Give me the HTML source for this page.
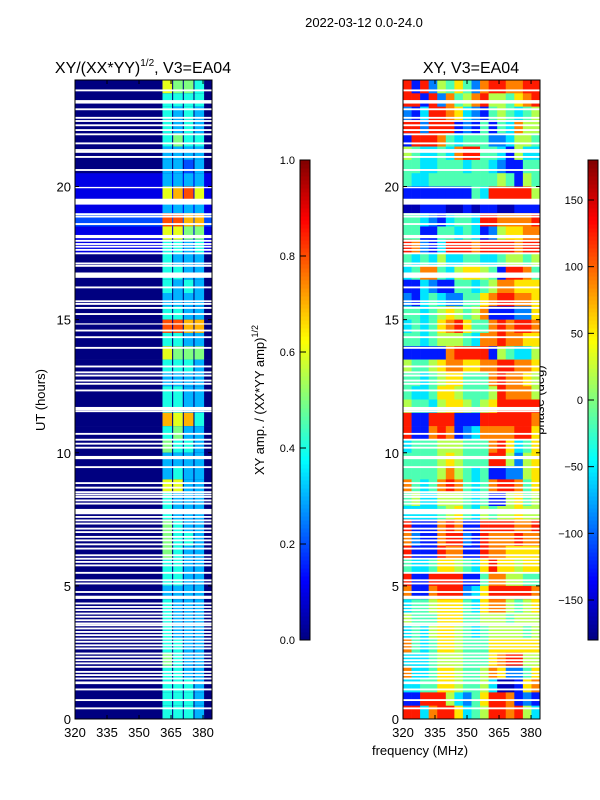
<!DOCTYPE html>
<html><head><meta charset="utf-8">
<style>
html,body{margin:0;padding:0;background:#fff;}
svg{display:block;font-family:"Liberation Sans","DejaVu Sans",sans-serif;}
</style></head>
<body>
<svg id="fig" width="600" height="800" viewBox="0 0 600 800" xmlns="http://www.w3.org/2000/svg">
<text x="364" y="27" font-size="13" text-anchor="middle">2022-03-12 0.0-24.0</text>
<text x="143" y="73" font-size="16" text-anchor="middle">XY/(XX*YY)<tspan font-size="10" dy="-7">1/2</tspan><tspan dy="7">, V3=EA04</tspan></text>
<text x="471" y="73" font-size="16" text-anchor="middle">XY, V3=EA04</text>
<text x="45" y="400" font-size="13" text-anchor="middle" transform="rotate(-90 45 400)">UT (hours)</text>
<text x="420" y="755" font-size="13" text-anchor="middle">frequency (MHz)</text>
<text x="264" y="400" font-size="13" text-anchor="middle" transform="rotate(-90 264 400)">XY amp. / (XX*YY amp)<tspan font-size="9" dy="-6">1/2</tspan></text>
<text x="544" y="400" font-size="13" text-anchor="middle" transform="rotate(-90 544 400)">phase (deg)</text>
<g id="ampPanel"></g>
<g id="phPanel"></g>
<g id="cb1"></g>
<g id="cb2"></g>
</svg>
<script>
// ---- data ----
const freqMin = 320, freqMax = 384.2, utMin = 0, utMax = 24;
const xTicks = [320, 335, 350, 365, 380];
const yTicks = [0, 5, 10, 15, 20];
const ampTicks = [0.0, 0.2, 0.4, 0.6, 0.8, 1.0];
const phTicks = [-150, -100, -50, 0, 50, 100, 150];
// amplitude: bright spectral bands (MHz)
const bandStart = [361, 366, 371, 376];
const bandEnd = [365.5, 370.5, 375.5, 380.5];
// rows of 0.5 h from top (23.5-24) to bottom (0-0.5); first digit = background, next 4 = bands (x0.1)
const ampRows = ["06554","04444","04343","04343","04544","03333","03323","13333","16786","13333",
"28877","16655","14434","04333","04433","04343","03333","04433","08877","04433",
"06555","04443","03333","04433","04433","07674","04533","05443","03333","03433",
"06633","04333","04333","05433","05443","05433","04433","04433","03333","04333",
"04333","04333","04433","05433","04433","04443","04443","04443"];
// phase rows (16 cols of 4 MHz), digit d -> phase -180+(d+0.5)*36
const phRows = ["8182546427887788","8818274578554678","2138876321454345","8828881214143755",
"1888743444223554","5433437884431533","4433444344321144","4334444444454154",
"1111111143888885","0011100101100111","4432134438877778","4411443431256677",
"8721388878888788","4343533443345545","3477435665418874","1132114434577666",
"2134322446788776","4434565457111226","3434678644787887","4434555437787766",
"1111178888154335","5445677667788776","4434566444787765","4334665444587775",
"5443566545688888","8118881118888887","8117871237777886","3444555444786346",
"4444565444885256","4444575434112256","7434787434788746","4533555434115645",
"3333456435455655","8111787118888778","7211788218777877","8111877118776666",
"4334665436866566","8118888114775544","7117888236888887","3445666436775456",
"5444666445554555","3435665434555545","7434665444666666","3334555444678855",
"7334665445762246","3344665445300167","1188853246887121","8837886345887853"];
// flagged (blank) times in hours and their widths
const flagT = [23.61,23.18,22.90,22.58,22.46,22.30,22.12,21.96,21.62,21.37,21.30,21.11,20.62,19.96,19.43,18.96,18.87,18.59,18.12,17.96,17.84,17.74,17.62,17.49,17.11,17.02,16.67,16.21,15.69,15.59,15.44,15.21,14.84,14.59,14.34,13.94,13.24,13.02,12.90,12.71,12.59,12.34,11.66,11.56,10.71,10.49,10.34,10.19,9.82,9.46,8.86,8.69,8.52,8.43,8.34,8.21,8.09,7.79,7.59,7.46,7.34,7.15,7.02,6.84,6.71,6.56,6.40,6.15,6.02,5.90,5.77,5.49,5.21,5.09,4.77,4.57,4.34,4.21,4.09,3.96,3.84,3.71,3.59,3.52,3.40,3.27,3.15,3.02,2.90,2.77,2.65,2.46,2.34,2.21,2.09,1.96,1.77,1.65,1.52,1.36,1.11,0.71,0.40];
const flagW = [0.07,0.13,0.07,0.07,0.07,0.07,0.07,0.07,0.07,0.07,0.07,0.07,0.07,0.05,0.22,0.07,0.07,0.07,0.12,0.07,0.07,0.07,0.07,0.07,0.07,0.07,0.2,0.07,0.07,0.07,0.07,0.07,0.04,0.07,0.07,0.07,0.07,0.07,0.07,0.07,0.07,0.07,0.12,0.07,0.07,0.07,0.07,0.07,0.12,0.07,0.07,0.07,0.07,0.07,0.07,0.07,0.07,0.2,0.07,0.07,0.07,0.07,0.07,0.07,0.07,0.07,0.07,0.07,0.07,0.07,0.07,0.07,0.07,0.07,0.07,0.12,0.07,0.07,0.07,0.07,0.07,0.07,0.07,0.07,0.07,0.07,0.07,0.07,0.07,0.07,0.07,0.07,0.07,0.07,0.07,0.07,0.07,0.07,0.07,0.1,0.07,0.07,0.07];

// ---- helpers ----
const NS = "http://www.w3.org/2000/svg";
function jet(v){
  v = Math.max(0, Math.min(1, v));
  const c = f => Math.round(255 * Math.max(0, Math.min(1, f)));
  return `rgb(${c(Math.min(4*v-1.5, -4*v+4.5))},${c(Math.min(4*v-0.5, -4*v+3.5))},${c(Math.min(4*v+0.5, -4*v+2.5))})`;
}
function mk(parent, tag, attrs){
  const e = document.createElementNS(NS, tag);
  for (const k in attrs) e.setAttribute(k, attrs[k]);
  parent.appendChild(e);
  return e;
}
const AX_TOP = 80, AX_BOT = 719;
function yScale(t){ return AX_BOT - (t - utMin) / (utMax - utMin) * (AX_BOT - AX_TOP); }
function makeX(x0, x1){ return f => x0 + (f - freqMin) / (freqMax - freqMin) * (x1 - x0); }

function drawAxes(g, x0, x1, xs, prefix){
  for (let i = 0; i < flagT.length; i++) {
    const r = mk(g, "rect", {x: x0, y: yScale(flagT[i] + flagW[i]/2), width: x1 - x0, height: Math.max(1.2, yScale(flagT[i] - flagW[i]/2) - yScale(flagT[i] + flagW[i]/2)), fill: "#fff"});
    
    
  }
  const fr = mk(g, "rect", {x: x0, y: AX_TOP, width: x1 - x0, height: AX_BOT - AX_TOP, fill: "none", stroke: "#000", "stroke-width": 1});
  
  
  xTicks.forEach(f => {
    const x = xs(f);
    mk(g, "line", {x1: x, x2: x, y1: AX_BOT, y2: AX_BOT - 4, stroke: "#000"});
    mk(g, "line", {x1: x, x2: x, y1: AX_TOP, y2: AX_TOP + 4, stroke: "#000"});
    const t = mk(g, "text", {x: x, y: AX_BOT + 18, "font-size": 13, "text-anchor": "middle"});
    t.textContent = f;
    
    
  });
  yTicks.forEach(v => {
    const y = yScale(v);
    mk(g, "line", {x1: x0, x2: x0 + 4, y1: y, y2: y, stroke: "#000"});
    mk(g, "line", {x1: x1, x2: x1 - 4, y1: y, y2: y, stroke: "#000"});
    const t = mk(g, "text", {x: x0 - 4, y: y + 5, "font-size": 13, "text-anchor": "end"});
    t.textContent = v;
    
    
  });
}

// ---- amplitude panel ----
(function(){
  const g = document.getElementById("ampPanel");
  const x0 = 75, x1 = 212, xs = makeX(x0, x1);
  const nR = ampRows.length, dt = (utMax - utMin) / nR;
  ampRows.forEach((row, i) => {
    const tTop = utMax - i * dt, yT = yScale(tTop), yB = yScale(tTop - dt);
    const bg = mk(g, "rect", {x: x0, y: yT, width: x1 - x0, height: yB - yT + 0.3, fill: jet(+row[0] / 10)});
    
    
    for (let b = 0; b < bandStart.length; b++) {
      const c = mk(g, "rect", {x: xs(bandStart[b]), y: yT, width: xs(bandEnd[b]) - xs(bandStart[b]), height: yB - yT + 0.3, fill: jet(+row[b + 1] / 10)});
      
      
    }
  });
  drawAxes(g, x0, x1, xs, "amp");
})();

// ---- phase panel ----
(function(){
  const g = document.getElementById("phPanel");
  const x0 = 403, x1 = 540, xs = makeX(x0, x1);
  const nR = phRows.length, dt = (utMax - utMin) / nR;
  phRows.forEach((row, i) => {
    const tTop = utMax - i * dt, yT = yScale(tTop), yB = yScale(tTop - dt);
    const nC = row.length, df = (freqMax - freqMin) / nC;
    for (let j = 0; j < nC; j++) {
      const ph = -180 + (+row[j] + 0.5) * 36;
      const c = mk(g, "rect", {x: xs(freqMin + j * df), y: yT, width: xs(freqMin + (j + 1) * df) - xs(freqMin + j * df) + 0.3, height: yB - yT + 0.3, fill: jet((ph + 180) / 360)});
      
      
    }
  });
  drawAxes(g, x0, x1, xs, "phase");
})();

// ---- colorbars ----
function colorbar(id, x, vmin, vmax, ticks, fmt, prefix){
  const g = document.getElementById(id);
  const top = 160, bot = 640, w = 10, n = 120;
  for (let i = 0; i < n; i++) {
    const r = mk(g, "rect", {x: x, y: bot - (i + 1) * (bot - top) / n, width: w, height: (bot - top) / n + 0.5, fill: jet((i + 0.5) / n)});
    
    
  }
  mk(g, "rect", {x: x, y: top, width: w, height: bot - top, fill: "none", stroke: "#000", "stroke-width": 1});
  ticks.forEach(v => {
    const y = bot - (v - vmin) / (vmax - vmin) * (bot - top);
    mk(g, "line", {x1: x, x2: x + 6, y1: y, y2: y, stroke: "#000"});
    const t = mk(g, "text", {x: x - 5, y: y + 4, "font-size": 11, "text-anchor": "end"});
    t.textContent = fmt(v);
    
    
  });
}
colorbar("cb1", 300, 0, 1, ampTicks, v => v.toFixed(1), "amp");
colorbar("cb2", 588, -180, 180, phTicks, v => (v < 0 ? "\u2212" + (-v) : "" + v), "phase");
</script>
</body></html>
